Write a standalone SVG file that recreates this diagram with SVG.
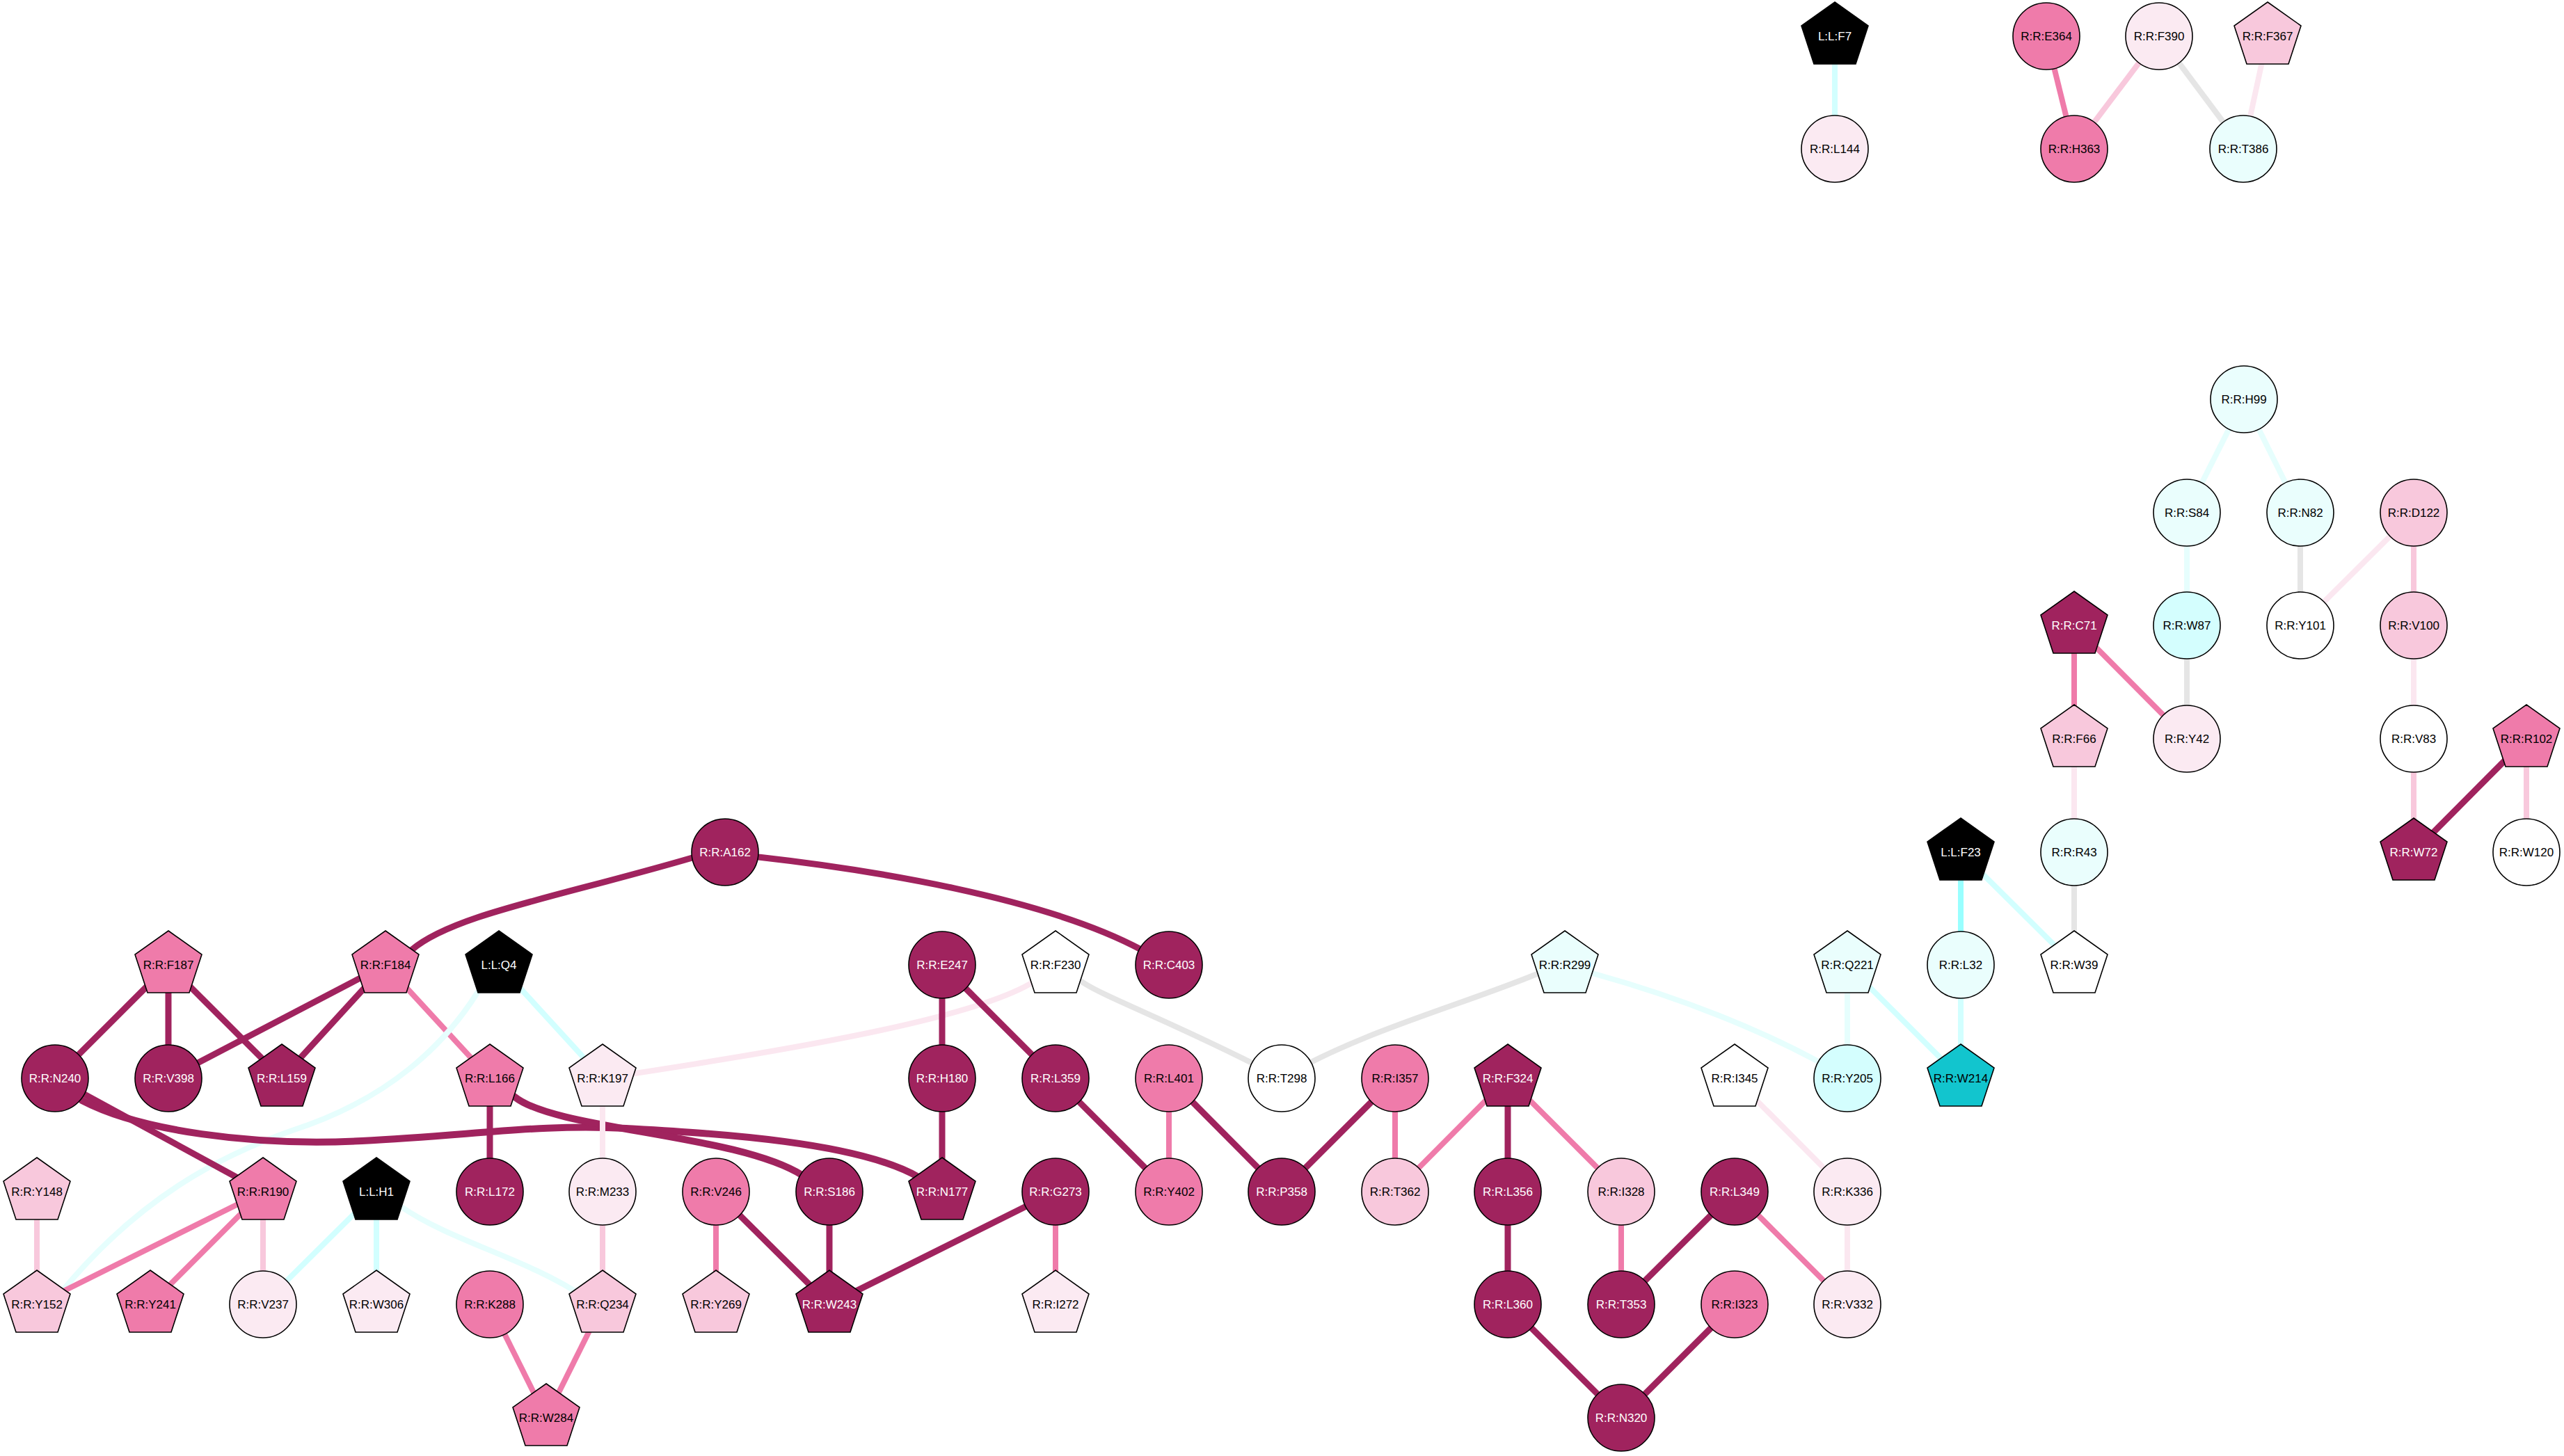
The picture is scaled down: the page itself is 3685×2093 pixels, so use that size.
<svg xmlns="http://www.w3.org/2000/svg" xmlns:xlink="http://www.w3.org/1999/xlink" width="3685" height="2093" viewBox="0 0 3685 2093">
<style>
.e{fill:none}
.ed{stroke:#A0235E;stroke-width:9}
.em{stroke:#EF7BAA;stroke-width:8}
.el{stroke:#F8C8DC;stroke-width:8}
.ev{stroke:#FBE7F0;stroke-width:8}
.eg{stroke:#E5E5E5;stroke-width:8}
.ec{stroke:#E6FEFD;stroke-width:8}
.ec2{stroke:#D2FFFF;stroke-width:8}
.ec3{stroke:#99FFFF;stroke-width:8}
.n{stroke:#000;stroke-width:1.6}
.d{fill:#A0235E}.m{fill:#EF7BAA}.l{fill:#F8C8DC}.v{fill:#FBEAF2}.w{fill:#FFFFFF}.c1{fill:#EAFEFD}.c2{fill:#D4FEFE}.c3{fill:#12C5CE}.k{fill:#000000}
text{font-family:"Liberation Sans",Arial,sans-serif;font-size:17px;text-anchor:middle;fill:#000}
text.tw{fill:#FFFFFF}
</style>
<defs>
<polygon id="pent" points="0,-49 48,-15 30,40 -30,40 -48,-15"/>
</defs>
<rect width="3685" height="2093" fill="#FFFFFF"/>
<g id="connectors">
<line class="e ec2" x1="2637" y1="52" x2="2637" y2="214"/>
<line class="e em" x1="2941" y1="52" x2="2981" y2="214"/>
<line class="e el" x1="3103" y1="52" x2="2981" y2="214"/>
<line class="e eg" x1="3103" y1="52" x2="3224" y2="214"/>
<line class="e ev" x1="3259" y1="52" x2="3224" y2="214"/>
<line class="e ec" x1="3225" y1="574" x2="3143" y2="737"/>
<line class="e ec" x1="3225" y1="574" x2="3306" y2="737"/>
<line class="e ec" x1="3143" y1="737" x2="3143" y2="899"/>
<line class="e eg" x1="3306" y1="737" x2="3306" y2="899"/>
<line class="e ev" x1="3469" y1="737" x2="3306" y2="899"/>
<line class="e el" x1="3469" y1="737" x2="3469" y2="899"/>
<line class="e em" x1="2981" y1="899" x2="2981" y2="1062"/>
<line class="e em" x1="2981" y1="899" x2="3143" y2="1062"/>
<line class="e eg" x1="3143" y1="899" x2="3143" y2="1062"/>
<line class="e ev" x1="3469" y1="899" x2="3469" y2="1062"/>
<line class="e ev" x1="2981" y1="1062" x2="2981" y2="1225"/>
<line class="e el" x1="3469" y1="1062" x2="3469" y2="1225"/>
<line class="e ed" x1="3631" y1="1062" x2="3469" y2="1225"/>
<line class="e el" x1="3631" y1="1062" x2="3631" y2="1225"/>
<line class="e eg" x1="2981" y1="1225" x2="2981" y2="1387"/>
<line class="e ec3" x1="2818" y1="1225" x2="2818" y2="1387"/>
<line class="e ec2" x1="2818" y1="1225" x2="2981" y2="1387"/>
<line class="e ec2" x1="2818" y1="1387" x2="2818" y2="1550"/>
<line class="e ec2" x1="2655" y1="1387" x2="2818" y2="1550"/>
<line class="e ec" x1="2655" y1="1387" x2="2655" y2="1550"/>
<path class="e ec" d="M2249,1387 L2292,1400 C2400,1430 2540,1480 2655,1550"/>
<path class="e eg" d="M2249,1387 L2209,1400 C2100,1445 1950,1485 1842,1550"/>
<path class="e eg" d="M1517,1387 L1556,1412 C1590,1435 1700,1475 1842,1550"/>
<path class="e ev" d="M1517,1387 L1481,1414 C1400,1460 1200,1500 866,1550"/>
<path class="e ed" d="M554,1387 L591,1366 C650,1315 800,1290 995,1233 L1042,1225"/>
<path class="e ed" d="M1042,1225 L1090,1232 C1250,1250 1500,1290 1640,1365 L1680,1387"/>
<line class="e ed" x1="1354" y1="1387" x2="1354" y2="1550"/>
<line class="e ed" x1="1354" y1="1387" x2="1517" y2="1550"/>
<line class="e ed" x1="1354" y1="1550" x2="1354" y2="1713"/>
<line class="e ed" x1="1517" y1="1550" x2="1680" y2="1713"/>
<line class="e em" x1="1680" y1="1550" x2="1680" y2="1713"/>
<line class="e ed" x1="1680" y1="1550" x2="1842" y2="1713"/>
<line class="e ed" x1="2005" y1="1550" x2="1842" y2="1713"/>
<line class="e em" x1="2005" y1="1550" x2="2005" y2="1713"/>
<line class="e em" x1="2167" y1="1550" x2="2005" y2="1713"/>
<line class="e ed" x1="2167" y1="1550" x2="2167" y2="1713"/>
<line class="e em" x1="2167" y1="1550" x2="2330" y2="1713"/>
<line class="e ev" x1="2493" y1="1550" x2="2655" y2="1713"/>
<line class="e ed" x1="2167" y1="1713" x2="2167" y2="1875"/>
<line class="e em" x1="2330" y1="1713" x2="2330" y2="1875"/>
<line class="e ed" x1="2493" y1="1713" x2="2330" y2="1875"/>
<line class="e em" x1="2493" y1="1713" x2="2655" y2="1875"/>
<line class="e ev" x1="2655" y1="1713" x2="2655" y2="1875"/>
<line class="e ed" x1="2167" y1="1875" x2="2330" y2="2038"/>
<line class="e ed" x1="2493" y1="1875" x2="2330" y2="2038"/>
<line class="e ed" x1="242" y1="1387" x2="79" y2="1550"/>
<line class="e ed" x1="242" y1="1387" x2="242" y2="1550"/>
<line class="e ed" x1="242" y1="1387" x2="405" y2="1550"/>
<line class="e ed" x1="554" y1="1387" x2="242" y2="1550"/>
<line class="e ed" x1="554" y1="1387" x2="405" y2="1550"/>
<line class="e em" x1="554" y1="1387" x2="704" y2="1550"/>
<line class="e ec2" x1="717" y1="1387" x2="866" y2="1550"/>
<path class="e ec" d="M717,1387 L686,1427 C640,1500 560,1580 420,1625 C320,1660 200,1720 86,1860 L53,1875"/>
<line class="e ed" x1="79" y1="1550" x2="378" y2="1713"/>
<path class="e ed" d="M79,1550 L118,1582 C200,1625 360,1648 520,1640 S780,1615 900,1622 S1230,1640 1320,1692 L1354,1713" style="stroke-width:10"/>
<path class="e ed" d="M704,1550 L740,1577 C800,1625 1060,1630 1154,1690 L1192,1713" style="stroke-width:10"/>
<line class="e ed" x1="704" y1="1550" x2="704" y2="1713"/>
<line class="e ev" x1="866" y1="1550" x2="866" y2="1713"/>
<line class="e el" x1="53" y1="1713" x2="53" y2="1875"/>
<line class="e em" x1="378" y1="1713" x2="53" y2="1875"/>
<line class="e em" x1="378" y1="1713" x2="216" y2="1875"/>
<line class="e el" x1="378" y1="1713" x2="378" y2="1875"/>
<line class="e ec2" x1="541" y1="1713" x2="378" y2="1875"/>
<line class="e ec2" x1="541" y1="1713" x2="541" y2="1875"/>
<path class="e ec" d="M541,1713 L577,1735 C650,1785 760,1810 840,1865 L866,1875"/>
<line class="e el" x1="866" y1="1713" x2="866" y2="1875"/>
<line class="e em" x1="704" y1="1875" x2="785" y2="2038"/>
<line class="e em" x1="866" y1="1875" x2="785" y2="2038"/>
<line class="e em" x1="1029" y1="1713" x2="1029" y2="1875"/>
<line class="e ed" x1="1029" y1="1713" x2="1192" y2="1875"/>
<line class="e ed" x1="1192" y1="1713" x2="1192" y2="1875"/>
<line class="e ed" x1="1517" y1="1713" x2="1192" y2="1875"/>
<line class="e em" x1="1517" y1="1713" x2="1517" y2="1875"/>
</g>
<g id="nodes">
<g id="L_L_F7"><use href="#pent" class="n k" transform="translate(2637,52)"/><text class="tw" x="2637" y="58">L:L:F7</text></g>
<g id="R_R_L144"><circle class="n v" cx="2637" cy="214" r="48"/><text x="2637" y="220">R:R:L144</text></g>
<g id="R_R_E364"><circle class="n m" cx="2941" cy="52" r="48"/><text x="2941" y="58">R:R:E364</text></g>
<g id="R_R_F390"><circle class="n v" cx="3103" cy="52" r="48"/><text x="3103" y="58">R:R:F390</text></g>
<g id="R_R_F367"><use href="#pent" class="n l" transform="translate(3259,52)"/><text x="3259" y="58">R:R:F367</text></g>
<g id="R_R_H363"><circle class="n m" cx="2981" cy="214" r="48"/><text x="2981" y="220">R:R:H363</text></g>
<g id="R_R_T386"><circle class="n c1" cx="3224" cy="214" r="48"/><text x="3224" y="220">R:R:T386</text></g>
<g id="R_R_H99"><circle class="n c1" cx="3225" cy="574" r="48"/><text x="3225" y="580">R:R:H99</text></g>
<g id="R_R_S84"><circle class="n c1" cx="3143" cy="737" r="48"/><text x="3143" y="743">R:R:S84</text></g>
<g id="R_R_N82"><circle class="n c1" cx="3306" cy="737" r="48"/><text x="3306" y="743">R:R:N82</text></g>
<g id="R_R_D122"><circle class="n l" cx="3469" cy="737" r="48"/><text x="3469" y="743">R:R:D122</text></g>
<g id="R_R_C71"><use href="#pent" class="n d" transform="translate(2981,899)"/><text class="tw" x="2981" y="905">R:R:C71</text></g>
<g id="R_R_W87"><circle class="n c2" cx="3143" cy="899" r="48"/><text x="3143" y="905">R:R:W87</text></g>
<g id="R_R_Y101"><circle class="n w" cx="3306" cy="899" r="48"/><text x="3306" y="905">R:R:Y101</text></g>
<g id="R_R_V100"><circle class="n l" cx="3469" cy="899" r="48"/><text x="3469" y="905">R:R:V100</text></g>
<g id="R_R_F66"><use href="#pent" class="n l" transform="translate(2981,1062)"/><text x="2981" y="1068">R:R:F66</text></g>
<g id="R_R_Y42"><circle class="n v" cx="3143" cy="1062" r="48"/><text x="3143" y="1068">R:R:Y42</text></g>
<g id="R_R_V83"><circle class="n w" cx="3469" cy="1062" r="48"/><text x="3469" y="1068">R:R:V83</text></g>
<g id="R_R_R102"><use href="#pent" class="n m" transform="translate(3631,1062)"/><text x="3631" y="1068">R:R:R102</text></g>
<g id="L_L_F23"><use href="#pent" class="n k" transform="translate(2818,1225)"/><text class="tw" x="2818" y="1231">L:L:F23</text></g>
<g id="R_R_R43"><circle class="n c1" cx="2981" cy="1225" r="48"/><text x="2981" y="1231">R:R:R43</text></g>
<g id="R_R_W72"><use href="#pent" class="n d" transform="translate(3469,1225)"/><text class="tw" x="3469" y="1231">R:R:W72</text></g>
<g id="R_R_W120"><circle class="n w" cx="3631" cy="1225" r="48"/><text x="3631" y="1231">R:R:W120</text></g>
<g id="R_R_A162"><circle class="n d" cx="1042" cy="1225" r="48"/><text class="tw" x="1042" y="1231">R:R:A162</text></g>
<g id="R_R_F187"><use href="#pent" class="n m" transform="translate(242,1387)"/><text x="242" y="1393">R:R:F187</text></g>
<g id="R_R_F184"><use href="#pent" class="n m" transform="translate(554,1387)"/><text x="554" y="1393">R:R:F184</text></g>
<g id="L_L_Q4"><use href="#pent" class="n k" transform="translate(717,1387)"/><text class="tw" x="717" y="1393">L:L:Q4</text></g>
<g id="R_R_E247"><circle class="n d" cx="1354" cy="1387" r="48"/><text class="tw" x="1354" y="1393">R:R:E247</text></g>
<g id="R_R_F230"><use href="#pent" class="n w" transform="translate(1517,1387)"/><text x="1517" y="1393">R:R:F230</text></g>
<g id="R_R_C403"><circle class="n d" cx="1680" cy="1387" r="48"/><text class="tw" x="1680" y="1393">R:R:C403</text></g>
<g id="R_R_R299"><use href="#pent" class="n c1" transform="translate(2249,1387)"/><text x="2249" y="1393">R:R:R299</text></g>
<g id="R_R_Q221"><use href="#pent" class="n c1" transform="translate(2655,1387)"/><text x="2655" y="1393">R:R:Q221</text></g>
<g id="R_R_L32"><circle class="n c1" cx="2818" cy="1387" r="48"/><text x="2818" y="1393">R:R:L32</text></g>
<g id="R_R_W39"><use href="#pent" class="n w" transform="translate(2981,1387)"/><text x="2981" y="1393">R:R:W39</text></g>
<g id="R_R_N240"><circle class="n d" cx="79" cy="1550" r="48"/><text class="tw" x="79" y="1556">R:R:N240</text></g>
<g id="R_R_V398"><circle class="n d" cx="242" cy="1550" r="48"/><text class="tw" x="242" y="1556">R:R:V398</text></g>
<g id="R_R_L159"><use href="#pent" class="n d" transform="translate(405,1550)"/><text class="tw" x="405" y="1556">R:R:L159</text></g>
<g id="R_R_L166"><use href="#pent" class="n m" transform="translate(704,1550)"/><text x="704" y="1556">R:R:L166</text></g>
<g id="R_R_K197"><use href="#pent" class="n v" transform="translate(866,1550)"/><text x="866" y="1556">R:R:K197</text></g>
<g id="R_R_H180"><circle class="n d" cx="1354" cy="1550" r="48"/><text class="tw" x="1354" y="1556">R:R:H180</text></g>
<g id="R_R_L359"><circle class="n d" cx="1517" cy="1550" r="48"/><text class="tw" x="1517" y="1556">R:R:L359</text></g>
<g id="R_R_L401"><circle class="n m" cx="1680" cy="1550" r="48"/><text x="1680" y="1556">R:R:L401</text></g>
<g id="R_R_T298"><circle class="n w" cx="1842" cy="1550" r="48"/><text x="1842" y="1556">R:R:T298</text></g>
<g id="R_R_I357"><circle class="n m" cx="2005" cy="1550" r="48"/><text x="2005" y="1556">R:R:I357</text></g>
<g id="R_R_F324"><use href="#pent" class="n d" transform="translate(2167,1550)"/><text class="tw" x="2167" y="1556">R:R:F324</text></g>
<g id="R_R_I345"><use href="#pent" class="n w" transform="translate(2493,1550)"/><text x="2493" y="1556">R:R:I345</text></g>
<g id="R_R_Y205"><circle class="n c2" cx="2655" cy="1550" r="48"/><text x="2655" y="1556">R:R:Y205</text></g>
<g id="R_R_W214"><use href="#pent" class="n c3" transform="translate(2818,1550)"/><text x="2818" y="1556">R:R:W214</text></g>
<g id="R_R_Y148"><use href="#pent" class="n l" transform="translate(53,1713)"/><text x="53" y="1719">R:R:Y148</text></g>
<g id="R_R_R190"><use href="#pent" class="n m" transform="translate(378,1713)"/><text x="378" y="1719">R:R:R190</text></g>
<g id="L_L_H1"><use href="#pent" class="n k" transform="translate(541,1713)"/><text class="tw" x="541" y="1719">L:L:H1</text></g>
<g id="R_R_L172"><circle class="n d" cx="704" cy="1713" r="48"/><text class="tw" x="704" y="1719">R:R:L172</text></g>
<g id="R_R_M233"><circle class="n v" cx="866" cy="1713" r="48"/><text x="866" y="1719">R:R:M233</text></g>
<g id="R_R_V246"><circle class="n m" cx="1029" cy="1713" r="48"/><text x="1029" y="1719">R:R:V246</text></g>
<g id="R_R_S186"><circle class="n d" cx="1192" cy="1713" r="48"/><text class="tw" x="1192" y="1719">R:R:S186</text></g>
<g id="R_R_N177"><use href="#pent" class="n d" transform="translate(1354,1713)"/><text class="tw" x="1354" y="1719">R:R:N177</text></g>
<g id="R_R_G273"><circle class="n d" cx="1517" cy="1713" r="48"/><text class="tw" x="1517" y="1719">R:R:G273</text></g>
<g id="R_R_Y402"><circle class="n m" cx="1680" cy="1713" r="48"/><text x="1680" y="1719">R:R:Y402</text></g>
<g id="R_R_P358"><circle class="n d" cx="1842" cy="1713" r="48"/><text class="tw" x="1842" y="1719">R:R:P358</text></g>
<g id="R_R_T362"><circle class="n l" cx="2005" cy="1713" r="48"/><text x="2005" y="1719">R:R:T362</text></g>
<g id="R_R_L356"><circle class="n d" cx="2167" cy="1713" r="48"/><text class="tw" x="2167" y="1719">R:R:L356</text></g>
<g id="R_R_I328"><circle class="n l" cx="2330" cy="1713" r="48"/><text x="2330" y="1719">R:R:I328</text></g>
<g id="R_R_L349"><circle class="n d" cx="2493" cy="1713" r="48"/><text class="tw" x="2493" y="1719">R:R:L349</text></g>
<g id="R_R_K336"><circle class="n v" cx="2655" cy="1713" r="48"/><text x="2655" y="1719">R:R:K336</text></g>
<g id="R_R_Y152"><use href="#pent" class="n l" transform="translate(53,1875)"/><text x="53" y="1881">R:R:Y152</text></g>
<g id="R_R_Y241"><use href="#pent" class="n m" transform="translate(216,1875)"/><text x="216" y="1881">R:R:Y241</text></g>
<g id="R_R_V237"><circle class="n v" cx="378" cy="1875" r="48"/><text x="378" y="1881">R:R:V237</text></g>
<g id="R_R_W306"><use href="#pent" class="n v" transform="translate(541,1875)"/><text x="541" y="1881">R:R:W306</text></g>
<g id="R_R_K288"><circle class="n m" cx="704" cy="1875" r="48"/><text x="704" y="1881">R:R:K288</text></g>
<g id="R_R_Q234"><use href="#pent" class="n l" transform="translate(866,1875)"/><text x="866" y="1881">R:R:Q234</text></g>
<g id="R_R_Y269"><use href="#pent" class="n l" transform="translate(1029,1875)"/><text x="1029" y="1881">R:R:Y269</text></g>
<g id="R_R_W243"><use href="#pent" class="n d" transform="translate(1192,1875)"/><text class="tw" x="1192" y="1881">R:R:W243</text></g>
<g id="R_R_I272"><use href="#pent" class="n v" transform="translate(1517,1875)"/><text x="1517" y="1881">R:R:I272</text></g>
<g id="R_R_L360"><circle class="n d" cx="2167" cy="1875" r="48"/><text class="tw" x="2167" y="1881">R:R:L360</text></g>
<g id="R_R_T353"><circle class="n d" cx="2330" cy="1875" r="48"/><text class="tw" x="2330" y="1881">R:R:T353</text></g>
<g id="R_R_I323"><circle class="n m" cx="2493" cy="1875" r="48"/><text x="2493" y="1881">R:R:I323</text></g>
<g id="R_R_V332"><circle class="n v" cx="2655" cy="1875" r="48"/><text x="2655" y="1881">R:R:V332</text></g>
<g id="R_R_W284"><use href="#pent" class="n m" transform="translate(785,2038)"/><text x="785" y="2044">R:R:W284</text></g>
<g id="R_R_N320"><circle class="n d" cx="2330" cy="2038" r="48"/><text class="tw" x="2330" y="2044">R:R:N320</text></g>
</g>
</svg>
